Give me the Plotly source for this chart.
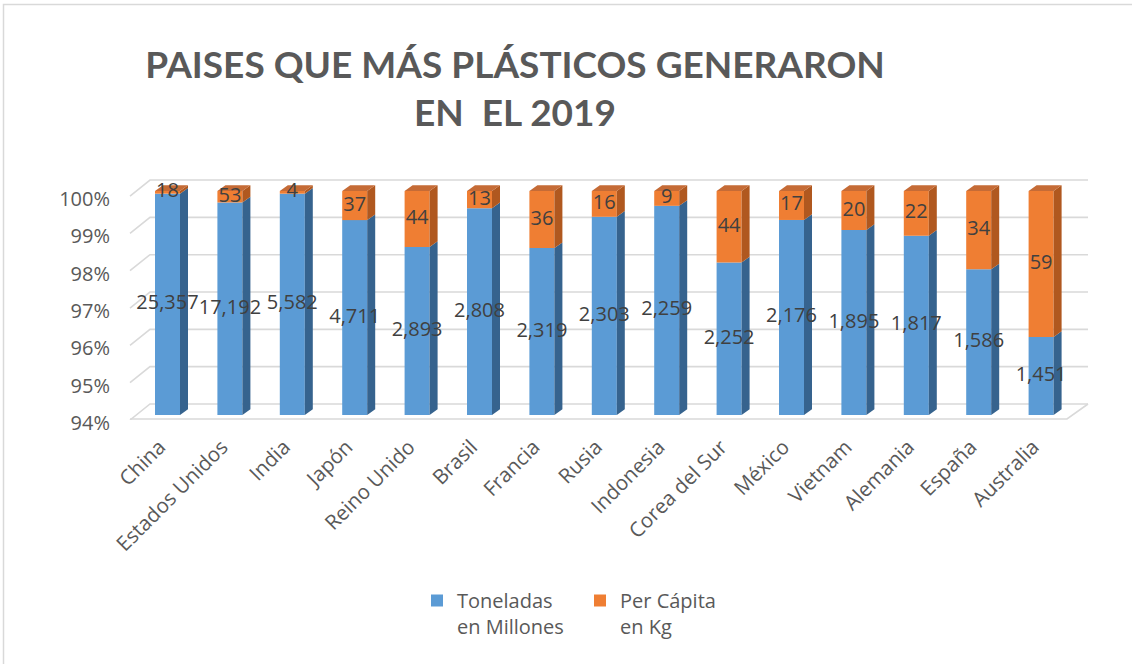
import plotly.graph_objects as go

# --- data -------------------------------------------------------------
paises = ["China", "Estados Unidos", "India", "Japón", "Reino Unido", "Brasil",
          "Francia", "Rusia", "Indonesia", "Corea del Sur", "México", "Vietnam",
          "Alemania", "España", "Australia"]
toneladas = [25357, 17192, 5582, 4711, 2893, 2808, 2319, 2303, 2259, 2252,
             2176, 1895, 1817, 1586, 1451]
per_capita = [18, 53, 4, 37, 44, 13, 36, 16, 9, 44, 17, 20, 22, 34, 59]
y_ticks = [94, 95, 96, 97, 98, 99, 100]
y_tick_text = [f"{v}%" for v in y_ticks]

# --- geometry (pixels) --------------------------------------------------
W, H = 1132, 664
PLOT_L, PLOT_R, PLOT_T, PLOT_B = 125, 1095, 175, 420
FIRST_CENTER_PX = 167.5      # pixel x of first category
CAT_PX = 62.4                # pixels per category
PCT_PX = 37.33               # pixels per percentage point
Y94_PX = 415                 # pixel y of the 94 % level

def px_to_x(p):
    return (p - FIRST_CENTER_PX) / CAT_PX

def py_to_y(p):
    return 94 + (Y94_PX - p) / PCT_PX

x_range = [px_to_x(PLOT_L), px_to_x(PLOT_R)]
y_range = [py_to_y(PLOT_B), py_to_y(PLOT_T)]

BAR_W = 25 / CAT_PX          # front face width
DEPTH_X = 8 / CAT_PX         # 3-D depth of the bars
DEPTH_Y = 5.7 / PCT_PX

BLUE, BLUE_SIDE = "#5B9BD5", "#36638E"
ORANGE, ORANGE_SIDE, ORANGE_TOP = "#EF7E33", "#B0581F", "#C56B36"
GRID = "#D9D9D9"
TEXT = "#595959"

# --- 100 % stacked shares ----------------------------------------------
idx = list(range(len(paises)))
totals = [t + p for t, p in zip(toneladas, per_capita)]
pct_ton = [100 * t / s for t, s in zip(toneladas, totals)]

fig = go.Figure()

# front faces
fig.add_trace(go.Bar(
    x=idx, y=[v - 94 for v in pct_ton], base=94, width=BAR_W,
    marker=dict(color=BLUE, line=dict(width=0)),
    name="Toneladas<br>en Millones", hoverinfo="skip"))
fig.add_trace(go.Bar(
    x=idx, y=[100 - v for v in pct_ton], base=pct_ton, width=BAR_W,
    marker=dict(color=ORANGE, line=dict(width=0)),
    name="Per Cápita<br>en Kg", hoverinfo="skip"))


def side_faces(bottoms, tops):
    xs, ys = [], []
    for i, b, t in zip(idx, bottoms, tops):
        x0 = i + BAR_W / 2
        x1 = x0 + DEPTH_X
        xs += [x0, x1, x1, x0, x0, None]
        ys += [b, b + DEPTH_Y, t + DEPTH_Y, t, b, None]
    return xs, ys


def poly(xs, ys, color):
    return go.Scatter(x=xs, y=ys, mode="lines", fill="toself", fillcolor=color,
                      line=dict(width=0, color=color), showlegend=False,
                      hoverinfo="skip")

sx, sy = side_faces([94] * len(idx), pct_ton)
fig.add_trace(poly(sx, sy, BLUE_SIDE))
sx, sy = side_faces(pct_ton, [100] * len(idx))
fig.add_trace(poly(sx, sy, ORANGE_SIDE))

# top faces
tx, ty = [], []
for i in idx:
    xl, xr = i - BAR_W / 2, i + BAR_W / 2
    tx += [xl, xl + DEPTH_X, xr + DEPTH_X, xr, xl, None]
    ty += [100, 100 + DEPTH_Y, 100 + DEPTH_Y, 100, 100, None]
fig.add_trace(poly(tx, ty, ORANGE_TOP))

# data labels, centred in the visible part of each segment
label_font = dict(family="Open Sans", size=20, color="#404040")
fig.add_trace(go.Scatter(
    x=idx, y=[(94 + v) / 2 for v in pct_ton],
    text=[f"{t:,}" for t in toneladas], mode="text",
    textfont=label_font, textposition="middle center",
    showlegend=False, hoverinfo="skip", cliponaxis=False))
fig.add_trace(go.Scatter(
    x=idx, y=[(v + 100) / 2 for v in pct_ton],
    text=[str(p) for p in per_capita], mode="text",
    textfont=label_font, textposition="middle center",
    showlegend=False, hoverinfo="skip", cliponaxis=False))

# back wall gridlines and floor (perspective)
shapes = []
wall_fx, wall_bx, wall_rx = px_to_x(130), px_to_x(150), px_to_x(1088)
front_drop, back_rise = 5 / PCT_PX, 11 / PCT_PX
for v in y_ticks:
    shapes.append(dict(
        type="path", xref="x", yref="y", layer="below",
        path=f"M{wall_fx},{v - front_drop} L{wall_bx},{v + back_rise} L{wall_rx},{v + back_rise}",
        line=dict(color=GRID, width=1.6)))
floor_rx = px_to_x(1067)
shapes.append(dict(
    type="path", xref="x", yref="y", layer="below",
    path=f"M{wall_fx},{94 - 4 / PCT_PX} L{floor_rx},{94 - 4 / PCT_PX} L{wall_rx},{94 + back_rise}",
    line=dict(color=GRID, width=1.6)))

# chart-area frame
def pxp(p):
    return (p - PLOT_L) / (PLOT_R - PLOT_L)

def pyp(p):
    return (PLOT_B - p) / (PLOT_B - PLOT_T)

shapes.append(dict(type="rect", xref="paper", yref="paper", layer="below",
                   x0=pxp(3.5), x1=pxp(1150), y0=pyp(4.5), y1=pyp(680),
                   line=dict(color=GRID, width=1.5)))

fig.update_layout(
    width=W, height=H,
    margin=dict(l=PLOT_L, r=W - PLOT_R, t=PLOT_T, b=H - PLOT_B, autoexpand=False),
    paper_bgcolor="white", plot_bgcolor="white",
    barmode="overlay",
    shapes=shapes,
    title=dict(
        text="PAISES QUE MÁS PLÁSTICOS GENERARON<br>EN\u00a0 EL 2019",
        font=dict(family="Lato", size=37, color=TEXT, weight="bold"),
        x=515 / W, xanchor="center", xref="container",
        y=1 - 78 / H, yanchor="top", yref="container"),
    xaxis=dict(
        range=x_range, tickmode="array", tickvals=idx, ticktext=paises,
        tickangle=-45, showgrid=False, zeroline=False, showline=False,
        ticks="", ticklabelstandoff=10, ticklabelshift=-8,
        tickfont=dict(family="Open Sans", size=20.5, color=TEXT)),
    yaxis=dict(
        range=y_range, tickmode="array", tickvals=y_ticks, ticktext=y_tick_text,
        showgrid=False, zeroline=False, showline=False, ticks="",
        ticklabelshift=8, ticklabelstandoff=14,
        tickfont=dict(family="Open Sans", size=20, color=TEXT)),
    legend=dict(
        orientation="h", x=pxp(417), xanchor="left", y=pyp(581), yanchor="top",
        valign="top", font=dict(family="Open Sans", size=20, color=TEXT),
        entrywidth=118, entrywidthmode="pixels", traceorder="normal"),
    showlegend=True,
)

fig.write_html("out.html")
